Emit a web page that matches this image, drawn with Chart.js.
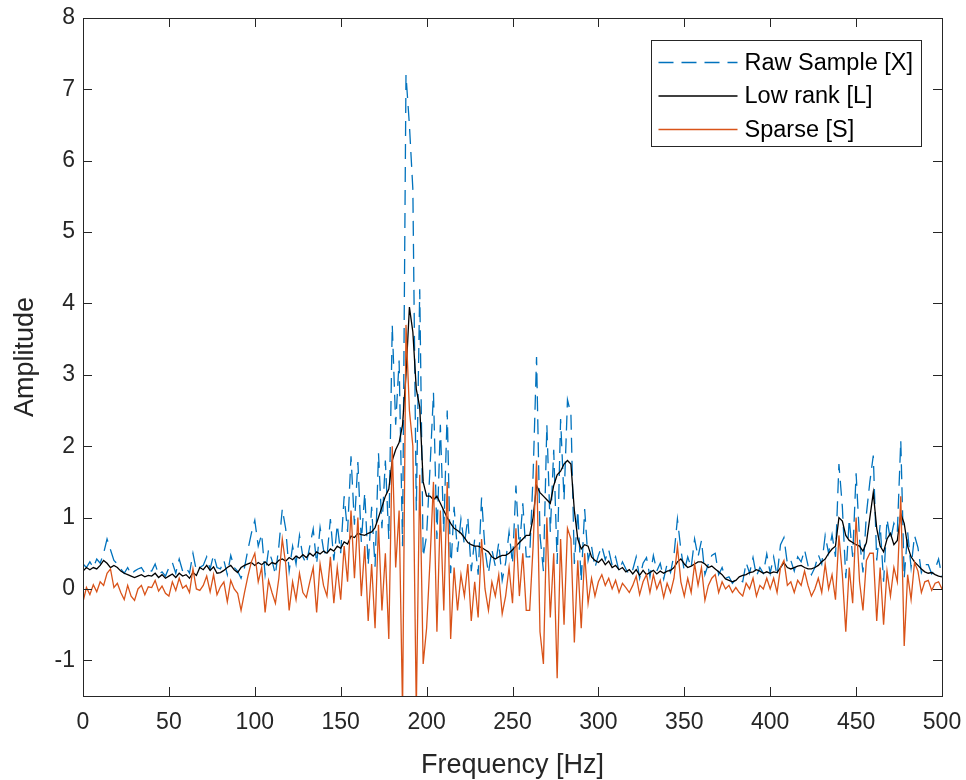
<!DOCTYPE html>
<html>
<head>
<meta charset="utf-8">
<script src="https://cdn.jsdelivr.net/npm/chart.js@4"></script>
<style>
  html, body { margin: 0; padding: 0; background: #fff; }
  #wrap { width: 966px; height: 780px; }
</style>
</head>
<body>
<div id="wrap"><canvas id="chart" width="966" height="780"></canvas></div>
<script>
// frequency grid [Hz], one row = 20 Hz
const freq = [
  0, 2, 4, 6, 8, 10, 12, 14, 16, 18,
  20, 22, 24, 26, 28, 30, 32, 34, 36, 38,
  40, 42, 44, 46, 48, 50, 52, 54, 56, 58,
  60, 62, 64, 66, 68, 70, 72, 74, 76, 78,
  80, 82, 84, 86, 88, 90, 92, 94, 96, 98,
  100, 102, 104, 106, 108, 110, 112, 114, 116, 118,
  120, 122, 124, 126, 128, 130, 132, 134, 136, 138,
  140, 142, 144, 146, 148, 150, 152, 154, 156, 158,
  160, 162, 164, 166, 168, 170, 172, 174, 176, 178,
  180, 182, 184, 186, 188, 190, 192, 194, 196, 198,
  200, 202, 204, 206, 208, 210, 212, 214, 216, 218,
  220, 222, 224, 226, 228, 230, 232, 234, 236, 238,
  240, 242, 244, 246, 248, 250, 252, 254, 256, 258,
  260, 262, 264, 266, 268, 270, 272, 274, 276, 278,
  280, 282, 284, 286, 288, 290, 292, 294, 296, 298,
  300, 302, 304, 306, 308, 310, 312, 314, 316, 318,
  320, 322, 324, 326, 328, 330, 332, 334, 336, 338,
  340, 342, 344, 346, 348, 350, 352, 354, 356, 358,
  360, 362, 364, 366, 368, 370, 372, 374, 376, 378,
  380, 382, 384, 386, 388, 390, 392, 394, 396, 398,
  400, 402, 404, 406, 408, 410, 412, 414, 416, 418,
  420, 422, 424, 426, 428, 430, 432, 434, 436, 438,
  440, 442, 444, 446, 448, 450, 452, 454, 456, 458,
  460, 462, 464, 466, 468, 470, 472, 474, 476, 478,
  480, 482, 484, 486, 488, 490, 492, 494, 496, 498,
  500
];

// Raw Sample [X]
const rawX = [
  0.35, 0.3, 0.38, 0.3, 0.42, 0.36, 0.5, 0.7, 0.55, 0.4,
  0.35, 0.28, 0.22, 0.3, 0.2, 0.25, 0.28, 0.3, 0.22, 0.26,
  0.25, 0.35, 0.2, 0.24, 0.18, 0.3, 0.37, 0.22, 0.42, 0.25,
  0.3, 0.22, 0.5, 0.25, 0.3, 0.33, 0.45, 0.28, 0.48, 0.3,
  0.28, 0.4, 0.2, 0.47, 0.3, 0.25, 0.15, 0.3, 0.55, 0.78,
  0.96, 0.6, 0.77, 0.2, 0.55, 0.4, 0.2, 0.6, 1.12, 0.84,
  0.25, 0.6, 0.35, 0.75, 0.45, 0.35, 0.6, 0.84, 0.35, 0.86,
  0.55, 0.45, 0.98, 0.4, 0.9, 0.5, 1.3, 0.8, 1.86, 0.9,
  1.78, 0.66, 1.35, 0.33, 1.15, 0.31, 1.9, 0.85, 1.8, 0.7,
  3.7, 2.3, 3.2, 0.6, 7.2, 6.5, 5.6, 1.1, 4.2, 0.45,
  0.75, 1.7, 2.75, 0.7, 2.3, 0.8, 2.5, 0.22, 1.15, 0.52,
  0.98, 0.62, 1.0, 0.25, 0.7, 0.2, 1.28, 0.55, 0.22, 0.55,
  0.32, 0.65, 0.12, 0.37, 0.8, 0.35, 1.45, 0.55, 1.2, 0.45,
  0.45, 1.6, 3.25, 0.75, 0.25, 2.3, 0.8, 1.95, 0.35, 2.38,
  1.25, 2.65, 2.45, 0.35, 1.1, 0.1, 1.12, 0.4, 0.6, 0.3,
  0.47, 0.6, 0.41, 0.55, 0.33, 0.45, 0.25, 0.38, 0.28, 0.2,
  0.27, 0.45, 0.15, 0.36, 0.44, 0.17, 0.47, 0.25, 0.36, 0.14,
  0.35, 0.23, 0.48, 0.98, 0.55, 0.25, 0.45, 0.3, 0.7, 0.45,
  0.68, 0.2, 0.35, 0.47, 0.5, 0.2, 0.3, 0.15, 0.17, 0.08,
  0.14, 0.13, 0.1, 0.37, 0.22, 0.44, 0.18, 0.3, 0.22, 0.49,
  0.22, 0.45, 0.18, 0.62, 0.72, 0.35, 0.4, 0.25, 0.45, 0.38,
  0.55, 0.33, 0.2, 0.3, 0.48, 0.35, 0.75, 0.5, 0.76, 0.45,
  1.75, 1.15, 0.15, 0.98, 0.45, 1.62, 0.7, 0.23, 1.05, 1.5,
  1.87, 0.4, 0.9, 0.1, 0.98, 0.68, 0.92, 0.8, 2.08, 0.15,
  0.8, 0.3, 0.75, 0.58, 0.23, 0.34, 0.34, 0.21, 0.28, 0.42,
  0.17
];

// Low rank [L]
const lowRank = [
  0.25, 0.3, 0.27, 0.3, 0.28, 0.33, 0.4, 0.36, 0.3, 0.33,
  0.3, 0.25, 0.22, 0.2, 0.18, 0.16, 0.18, 0.2, 0.17, 0.19,
  0.18, 0.22, 0.16, 0.2, 0.15, 0.18, 0.21, 0.16, 0.22, 0.18,
  0.2, 0.15, 0.23, 0.19, 0.3, 0.27, 0.33, 0.26, 0.31, 0.22,
  0.23, 0.26, 0.3, 0.33, 0.27, 0.23, 0.3, 0.33, 0.35, 0.37,
  0.33, 0.37, 0.34, 0.38, 0.33, 0.37, 0.35, 0.4, 0.42, 0.39,
  0.44, 0.41, 0.46, 0.43, 0.48, 0.44, 0.5, 0.46, 0.52, 0.49,
  0.53, 0.5, 0.56, 0.53, 0.6, 0.57, 0.66, 0.63, 0.74, 0.72,
  0.78, 0.76, 0.75, 0.78, 0.8, 0.86, 1.0, 1.15, 1.3, 1.4,
  1.8, 1.95, 2.05, 2.3, 3.0, 3.95, 3.6, 2.8, 2.55, 1.5,
  1.3, 1.3, 1.25, 1.3, 1.2, 1.1, 1.0, 0.92, 0.85, 0.82,
  0.78, 0.72, 0.65, 0.62, 0.6, 0.6, 0.58, 0.55, 0.52, 0.45,
  0.42, 0.45, 0.47, 0.47, 0.5, 0.55, 0.6, 0.65, 0.7, 0.75,
  0.75, 1.0, 1.45, 1.35, 1.3, 1.25, 1.2, 1.45, 1.6, 1.65,
  1.75, 1.8, 1.75, 1.1, 0.7, 0.56, 0.62, 0.6, 0.45, 0.4,
  0.37, 0.42, 0.34, 0.39, 0.3, 0.33, 0.27, 0.3, 0.24, 0.27,
  0.21, 0.27, 0.19, 0.26, 0.2, 0.23, 0.26, 0.21, 0.25, 0.22,
  0.25, 0.26, 0.3, 0.38, 0.42, 0.35, 0.3, 0.32, 0.35, 0.38,
  0.38, 0.35, 0.3, 0.32, 0.28, 0.24, 0.2, 0.14, 0.12, 0.1,
  0.12, 0.17, 0.19, 0.2, 0.23, 0.24, 0.27, 0.25, 0.22, 0.24,
  0.22, 0.24, 0.23, 0.3, 0.37, 0.3, 0.28, 0.3, 0.32, 0.33,
  0.3, 0.28, 0.28, 0.3, 0.33, 0.38, 0.42, 0.5, 0.56, 0.6,
  1.0, 0.95, 0.75, 0.68, 0.65, 0.62, 0.6, 0.53, 0.65, 1.0,
  1.35, 0.85, 0.6, 0.52, 0.7, 0.78, 0.62, 0.68, 1.05, 0.92,
  0.6, 0.45, 0.38, 0.33, 0.28, 0.24, 0.22, 0.23, 0.2, 0.18,
  0.17
];

// Sparse [S]
const sparse = [
  -0.18, 0.02, -0.08, 0.06, -0.04, 0.1, 0.05, 0.22, 0.28, 0.02,
  0.08, -0.05, -0.15, 0.05, -0.1, -0.16, 0.0, 0.05, -0.08, 0.03,
  0.02, 0.12, -0.03, 0.04, -0.06, -0.1, 0.1, -0.02, 0.15, 0.01,
  0.05, -0.05, 0.28, 0.0, -0.02, 0.05, 0.18, -0.04, 0.2, -0.08,
  0.03, 0.1, -0.18, 0.12, 0.0, -0.06, -0.3, -0.05, 0.18, 0.38,
  0.5, 0.1, 0.3, -0.33, 0.12, -0.05, -0.2, 0.15, 0.7, 0.35,
  -0.3, 0.1, -0.15, 0.22, -0.05, -0.12, 0.1, 0.3, -0.33, 0.35,
  0.05, -0.1, 0.45, -0.2, 0.3, -0.15, 0.6, 0.1, 1.1, 0.15,
  1.0, -0.1, 0.6, -0.45, 0.35, -0.55, 0.9, -0.3, 0.5, -0.7,
  2.0, 0.3, 1.1, -1.7, 3.7, 2.5, 2.0, -1.7, 1.6, -1.05,
  -0.55, 0.4, 1.5, -0.6, 1.1, -0.3, 1.5, -0.7, 0.3, -0.3,
  0.2, -0.1, 0.35, -0.45, 0.1, -0.4, 0.7, 0.0, -0.3, 0.1,
  -0.1, 0.2, -0.35, -0.1, 0.3, -0.2, 0.85, -0.1, 0.5, -0.3,
  -0.3, 0.6, 1.8, -0.6, -1.05, 1.0, -0.4, 0.5, -1.25, 0.7,
  -0.5, 0.85, 0.7, -0.75, 0.4, -0.55, 0.5, -0.2, 0.15, -0.1,
  0.1, 0.2, 0.05, 0.15, 0.0, 0.12, -0.05, 0.08, 0.02, -0.05,
  0.05, 0.18, -0.08, 0.1, 0.2, -0.05, 0.2, 0.0, 0.12, -0.12,
  0.08, -0.05, 0.15, 0.6, 0.1, -0.1, 0.15, -0.05, 0.35, 0.05,
  0.3, -0.16, 0.05, 0.15, 0.2, -0.05, 0.1, 0.0, 0.05, -0.05,
  0.02, -0.05, -0.1, 0.08, 0.0, 0.15, -0.1, 0.05, 0.0, 0.15,
  0.0, 0.15, -0.05, 0.3, 0.4, 0.05, 0.1, -0.05, 0.12, 0.05,
  0.25, 0.05, -0.1, 0.0, 0.15, -0.05, 0.35, 0.0, 0.2, -0.15,
  0.75, 0.2, -0.6, 0.3, -0.2, 1.0, 0.1, -0.3, 0.4, 0.5,
  0.5, -0.45, 0.3, -0.5, 0.25, -0.1, 0.3, 0.1, 1.3, -0.8,
  0.2, -0.15, 0.37, 0.25, -0.05, 0.1, 0.12, -0.02, 0.08, 0.1,
  0.0
];

const xTicks = [0, 50, 100, 150, 200, 250, 300, 350, 400, 450, 500];
const yTicks = [-1, 0, 1, 2, 3, 4, 5, 6, 7, 8];

const axisColor = '#262626';
const fontFamily = '"Liberation Sans", Arial, Helvetica, sans-serif';

const toPoints = ys => freq.map((f, i) => ({ x: f, y: ys[i] }));

// box around the axes with inward tick marks on all four sides
const boxTicks = {
  id: 'boxTicks',
  afterDatasetsDraw(chart) {
    const { ctx, chartArea: a, scales } = chart;
    const len = 9;
    ctx.save();
    ctx.strokeStyle = axisColor;
    ctx.lineWidth = 1;
    ctx.beginPath();
    scales.x.ticks.forEach(t => {
      const px = Math.round(scales.x.getPixelForValue(t.value)) + 0.5;
      ctx.moveTo(px, a.bottom); ctx.lineTo(px, a.bottom - len);
      ctx.moveTo(px, a.top); ctx.lineTo(px, a.top + len);
    });
    scales.y.ticks.forEach(t => {
      const py = Math.round(scales.y.getPixelForValue(t.value)) + 0.5;
      ctx.moveTo(a.left, py); ctx.lineTo(a.left + len, py);
      ctx.moveTo(a.right, py); ctx.lineTo(a.right - len, py);
    });
    ctx.stroke();
    ctx.strokeRect(Math.round(a.left) + 0.5, Math.round(a.top) + 0.5,
      Math.round(a.right - a.left), Math.round(a.bottom - a.top));
    ctx.restore();
  }
};

// legend box in the upper right corner of the axes
const boxLegend = {
  id: 'boxLegend',
  afterDraw(chart) {
    const { ctx, chartArea: a } = chart;
    const w = 270, h = 106;
    const x0 = Math.round(a.right - 21 - w) + 0.5;
    const y0 = Math.round(a.top + 22) + 0.5;
    ctx.save();
    ctx.fillStyle = '#fff';
    ctx.fillRect(x0, y0, w, h);
    ctx.strokeStyle = axisColor;
    ctx.lineWidth = 1;
    ctx.strokeRect(x0, y0, w, h);
    ctx.font = '23.5px ' + fontFamily;
    ctx.textBaseline = 'middle';
    ctx.fillStyle = '#000';
    chart.data.datasets.forEach((ds, i) => {
      const cy = y0 + 22 + i * 33.5;
      ctx.beginPath();
      ctx.strokeStyle = ds.borderColor;
      ctx.lineWidth = 1.3;
      ctx.setLineDash(ds.borderDash || []);
      ctx.moveTo(x0 + 7, cy);
      ctx.lineTo(x0 + 86, cy);
      ctx.stroke();
      ctx.setLineDash([]);
      ctx.fillText(ds.label, x0 + 93, cy + 1);
    });
    ctx.restore();
  }
};

new Chart(document.getElementById('chart'), {
  type: 'line',
  data: {
    datasets: [
      { label: 'Raw Sample [X]', data: toPoints(rawX), borderColor: '#0072BD',
        borderDash: [15, 8], borderWidth: 1.3, order: 3 },
      { label: 'Low rank [L]', data: toPoints(lowRank), borderColor: '#000000',
        borderWidth: 1.3, order: 2 },
      { label: 'Sparse [S]', data: toPoints(sparse), borderColor: '#D95319',
        borderWidth: 1.3, order: 1 }
    ]
  },
  options: {
    responsive: false,
    animation: false,
    layout: { padding: { top: 18, right: 24, bottom: 0, left: 0 } },
    elements: { point: { radius: 0 }, line: { tension: 0, fill: false } },
    plugins: { legend: { display: false }, tooltip: { enabled: false } },
    scales: {
      x: {
        type: 'linear',
        min: 0,
        max: 500,
        afterBuildTicks: s => { s.ticks = xTicks.map(v => ({ value: v })); },
        afterFit: s => { s.height = 84; s.paddingLeft = 0; s.paddingRight = 0; },
        grid: { display: false, drawTicks: false },
        border: { display: false },
        ticks: { color: axisColor, padding: 13, maxRotation: 0,
          font: { family: fontFamily, size: 23 } },
        title: { display: true, text: 'Frequency [Hz]', color: axisColor,
          padding: { top: 0, bottom: -2 }, font: { family: fontFamily, size: 27 } }
      },
      y: {
        min: -1.5,
        max: 8,
        afterBuildTicks: s => { s.ticks = yTicks.map(v => ({ value: v })); },
        afterFit: s => { s.width = 83; s.paddingTop = 0; s.paddingBottom = 0; },
        grid: { display: false, drawTicks: false },
        border: { display: false },
        ticks: { color: axisColor, padding: 8,
          font: { family: fontFamily, size: 23 } },
        title: { display: true, text: 'Amplitude', color: axisColor,
          padding: { top: 9, bottom: 0 }, font: { family: fontFamily, size: 27 } }
      }
    }
  },
  plugins: [boxTicks, boxLegend]
});
</script>
</body>
</html>
